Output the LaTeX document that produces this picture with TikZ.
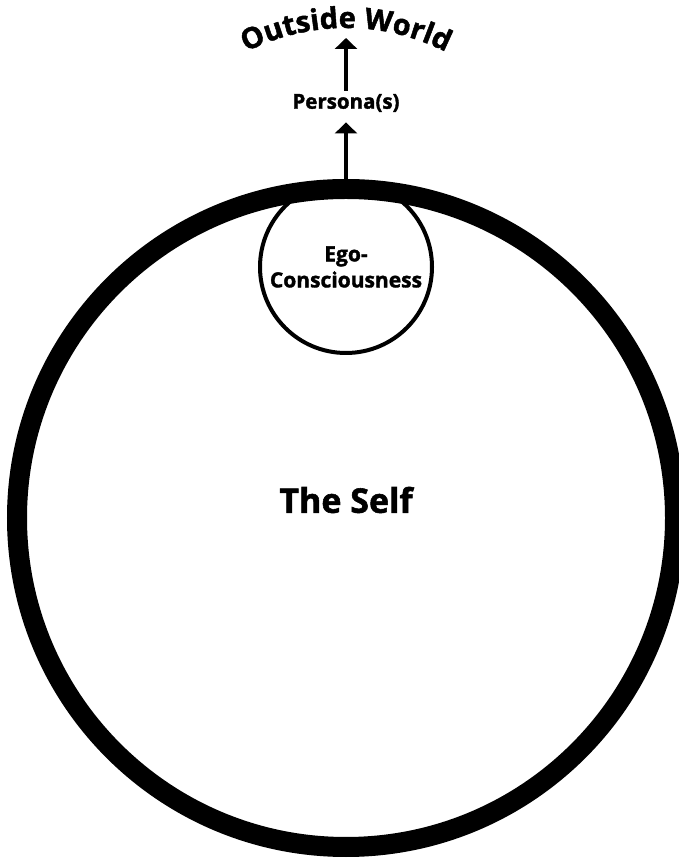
\documentclass[tikz,border=0pt]{standalone}
\usepackage{fontspec}
\setmainfont{Open Sans}[BoldFeatures={FakeBold=1.6}]
\usetikzlibrary{arrows.meta, positioning, decorations.text}
\tikzset{
    selfring/.style={circle, draw=black, line width=20pt, minimum size=658pt, inner sep=0pt},
    egoring/.style={circle, draw=black, line width=4pt, fill=white, minimum size=172pt, inner sep=0pt, align=center, font=\bfseries\fontsize{21}{26}\selectfont},
    bigtext/.style={font=\bfseries\fontsize{34}{40}\selectfont},
    midtext/.style={font=\bfseries\fontsize{20.5}{24}\selectfont},
    arrow/.style={line width=4.5pt, -{Triangle[width=22pt,length=11pt]}}
}
\begin{document}
\begin{tikzpicture}[x=1pt,y=1pt]
    \useasboundingbox (0,0) rectangle (678,859);
    \node (ego) [egoring] at (346,592) {Ego-\\Consciousness};
    \node (self) [selfring] at (346,341) {};
    \node (selftext) [bigtext] at (346,359) {The Self};
    \node (persona) [midtext] at (346,756) {Persona(s)};
    \coordinate (worldc) at (346,611);
    \coordinate (world) at (346,821);

    \path [decorate, decoration={text along path, text align=center, text={|\bfseries\fontsize{29}{29}\selectfont|Outside World}}]
        ([shift={(140:220)}]worldc) arc[start angle=140, end angle=40, radius=220];

    \draw [arrow, shorten >=7pt] (self.north) -- (persona);
    \draw [arrow] (persona) -- (world);
\end{tikzpicture}
\end{document}
